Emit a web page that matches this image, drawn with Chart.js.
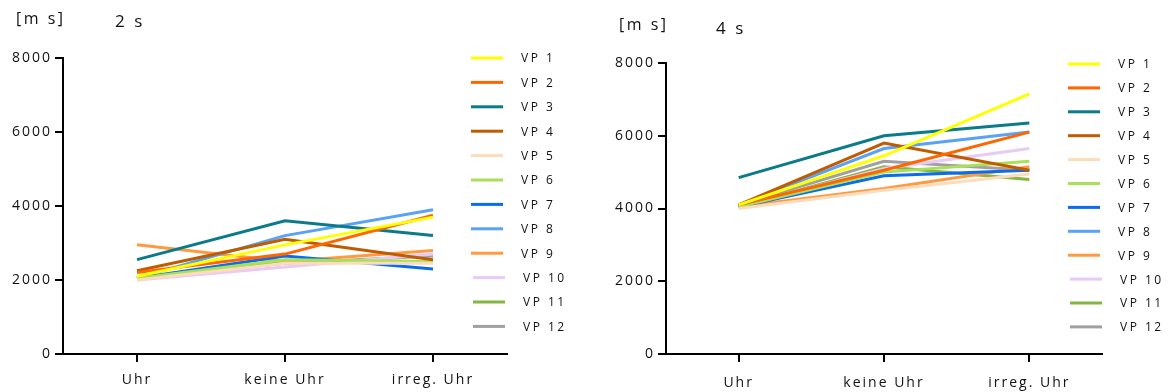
<!DOCTYPE html>
<html>
<head>
<meta charset="utf-8">
<script src="https://cdn.jsdelivr.net/npm/chart.js@4/dist/chart.umd.min.js"></script>
<style>
  body { margin: 0; background: #fff; font-family: "Open Sans", sans-serif; }
  .panel { position: absolute; top: 0; width: 585px; height: 392px; }
  .lbl { position: absolute; color: #111; letter-spacing: 2.5px; white-space: nowrap; }
</style>
</head>
<body>
<div class="panel" style="left:0">
  <canvas id="chart2"></canvas>
  <div class="lbl" style="left:16px;top:7px;font-size:16px">[m s]</div>
  <div class="lbl" style="left:115px;top:9px;font-size:17px">2 s</div>
</div>
<div class="panel" style="left:585px">
  <canvas id="chart4"></canvas>
  <div class="lbl" style="left:34px;top:13px;font-size:16px">[m s]</div>
  <div class="lbl" style="left:131px;top:16px;font-size:17px">4 s</div>
</div>
<script>
const categories = ['Uhr', 'keine Uhr', 'irreg. Uhr'];
const yTicks = [0, 2000, 4000, 6000, 8000];
const names = ['VP 1', 'VP 2', 'VP 3', 'VP 4', 'VP 5', 'VP 6', 'VP 7', 'VP 8', 'VP 9', 'VP 10', 'VP 11', 'VP 12'];
const colors = ['#ffff00', '#ff6600', '#0b7b8b', '#c05c00', '#fddcbc', '#a8e05a',
                '#0a6cf0', '#5aa2f5', '#ff9a40', '#e9c9f5', '#84b442', '#a0a0a4'];

// 2 s condition, one array per participant [Uhr, keine Uhr, irreg. Uhr]
const vp2s = [
  [2100, 2950, 3700],
  [2200, 2700, 3750],
  [2550, 3600, 3200],
  [2250, 3100, 2550],
  [2000, 2450, 2450],
  [2050, 2550, 2500],
  [2050, 2650, 2300],
  [2050, 3200, 3900],
  [2950, 2500, 2800],
  [2000, 2350, 2700],
  [2050, 2500, 2500],
  [2050, 2450, 2650]
];
// 4 s condition
const vp4s = [
  [4100, 5450, 7150],
  [4100, 5050, 6100],
  [4850, 6000, 6350],
  [4100, 5800, 5050],
  [4000, 4500, 4950],
  [4050, 5000, 5300],
  [4050, 4900, 5050],
  [4100, 5650, 6100],
  [4050, 4550, 5150],
  [4050, 5100, 5650],
  [4050, 5150, 4800],
  [4100, 5300, 5050]
];

const spacing = {
  id: 'spacing',
  beforeDraw(chart) { chart.ctx.letterSpacing = '2px'; }
};

// legend drawn next to the plot: short line + spaced label
function legendPlugin(x1, y0, step) {
  return {
    id: 'sideLegend',
    afterDraw(chart) {
      const ctx = chart.ctx;
      ctx.save();
      ctx.letterSpacing = '2.5px';
      ctx.font = '12px "Open Sans"';
      ctx.fillStyle = '#111';
      ctx.textBaseline = 'middle';
      chart.data.datasets.forEach((ds, i) => {
        const y = y0 + i * step;
        const dx = i >= 9 ? 2 : 0;
        ctx.strokeStyle = ds.borderColor;
        ctx.lineWidth = 3;
        ctx.beginPath();
        ctx.moveTo(x1 + dx, y);
        ctx.lineTo(x1 + dx + 32, y);
        ctx.stroke();
        ctx.fillText(ds.label, x1 + dx + 50, y + 1);
      });
      ctx.restore();
    }
  };
}

function makeChart(id, values, pad, xPad, legend) {
  new Chart(document.getElementById(id), {
    type: 'line',
    data: {
      labels: categories,
      datasets: values.map((v, i) => ({
        label: names[i],
        data: v,
        borderColor: colors[i],
        backgroundColor: colors[i],
        borderWidth: 3,
        pointRadius: 0,
        tension: 0
      }))
    },
    options: {
      responsive: false,
      animation: false,
      layout: { padding: pad },
      plugins: { legend: { display: false }, tooltip: { enabled: false } },
      scales: {
        x: {
          offset: true,
          border: { color: '#000', width: 2 },
          grid: { drawOnChartArea: false, color: '#000', tickLength: 8, lineWidth: 2, offset: false },
          ticks: { color: '#111', font: { family: 'Open Sans', size: 14 }, padding: xPad },
          afterFit: s => { s.height = 38; }
        },
        y: {
          min: 0,
          max: 8000,
          afterBuildTicks: s => { s.ticks = yTicks.map(v => ({ value: v })); },
          border: { color: '#000', width: 2 },
          grid: { drawOnChartArea: false, color: '#000', tickLength: 8, lineWidth: 2 },
          ticks: { color: '#111', font: { family: 'Open Sans', size: 14 }, padding: 3, callback: v => String(v) },
          afterFit: s => { s.width = 63; }
        }
      }
    },
    plugins: [spacing, legend]
  });
}

document.getElementById('chart2').width = 585;
document.getElementById('chart2').height = 392;
document.getElementById('chart4').width = 585;
document.getElementById('chart4').height = 392;

makeChart('chart2', vp2s, { top: 58, right: 78, left: 0, bottom: 0 }, 10, legendPlugin(471, 58, 24.4));
makeChart('chart4', vp4s, { top: 63, right: 68, left: 18, bottom: 0 }, 13, legendPlugin(483, 64, 23.9));
</script>
</body>
</html>
